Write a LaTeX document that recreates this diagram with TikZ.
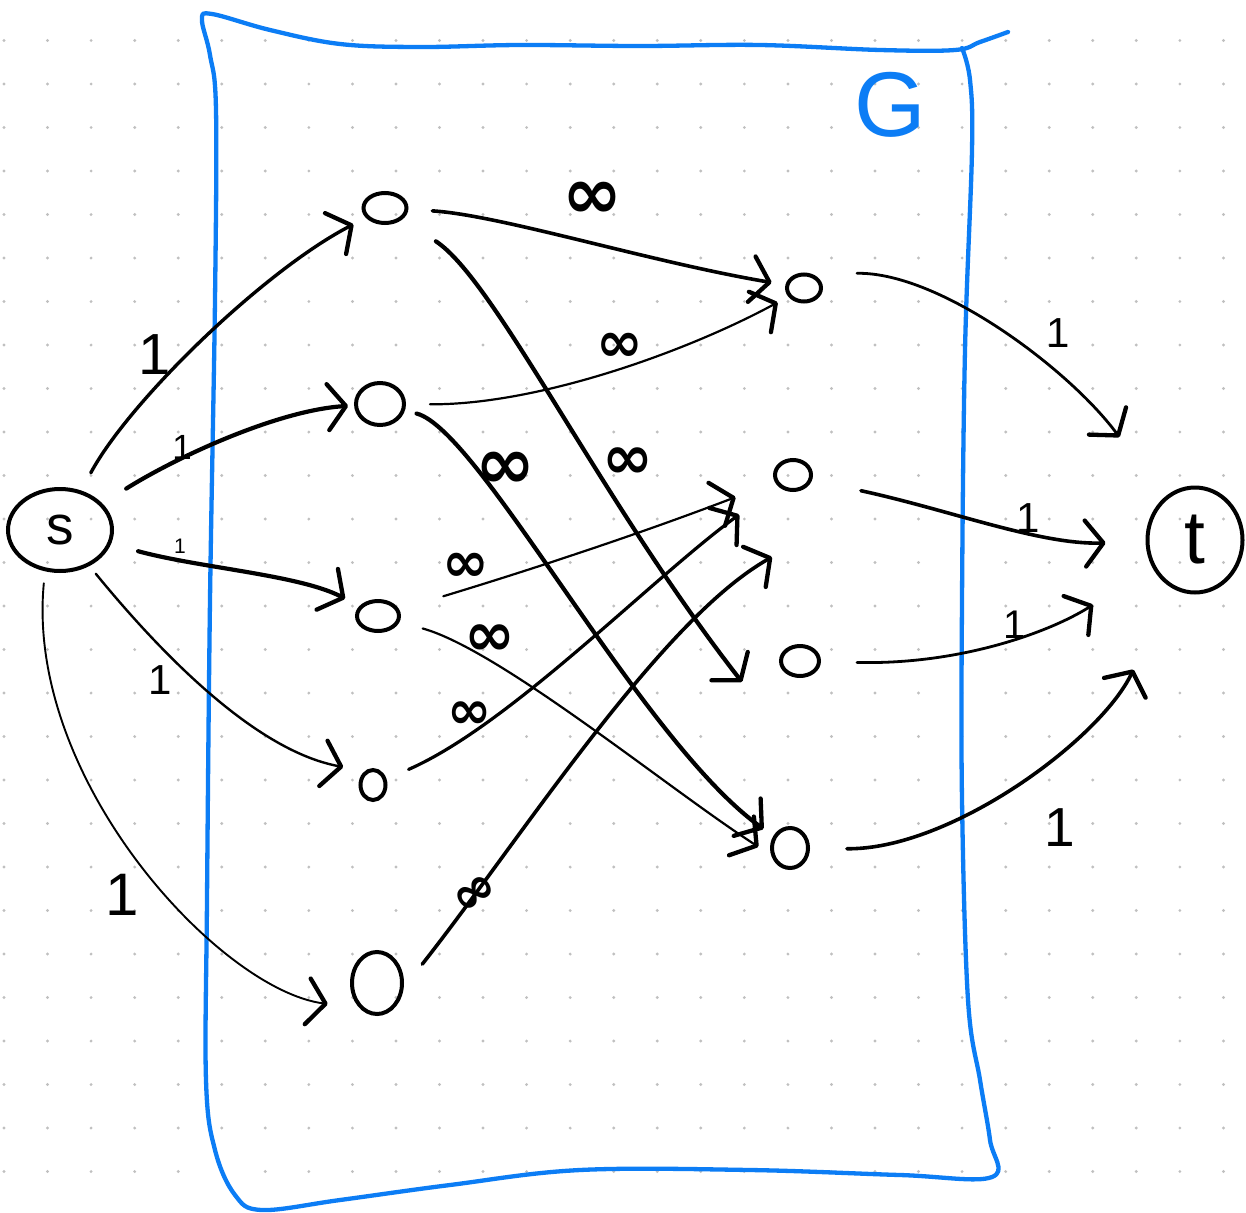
\documentclass[tikz,border=0pt]{standalone}
\usepackage{fontspec}
\setmainfont{Liberation Sans}
\newfontfamily\symf{DejaVu Sans}
\usetikzlibrary{arrows.meta,shapes.geometric}
\definecolor{gblue}{RGB}{12,125,245}
\definecolor{dotc}{RGB}{192,192,192}
\begin{document}
\begin{tikzpicture}[x=1pt,y=-1pt,
  vx/.style={ellipse,draw,line width=4pt,inner sep=0pt},
  edg/.style={line width=#1,line cap=round,-{Straight Barb[length=18pt,width=46pt,line width=4.3pt,round]}},
  edg/.default=2pt,
  lab/.style={inner sep=0pt,font=\fontsize{#1}{#1}\selectfont},
  inf/.style={inner sep=0pt,font=\symf\bfseries\fontsize{#1}{#1}\selectfont}]
\useasboundingbox (0,0) rectangle (1246,1212);
\fill[white] (0,0) rectangle (1246,1212);
\foreach \i in {0,...,28}{\foreach \j in {0,...,26}{\fill[dotc] ({4+43.55*\i},{40.5+43.5*\j}) circle[radius=1.6pt];}}
% frame G
\draw[gblue,line width=4.3pt,line cap=round,line join=round] plot[smooth,tension=0.6] coordinates {
 (1008,32) (980,42) (955,50) (880,50) (760,45) (640,46) (520,45) (420,47) (340,44) (270,30) (212,14) (202,20)
 (210,55) (216,110) (215,300) (210,600) (207,900) (206,1080) (215,1150) (235,1195) (262,1210) (340,1200)
 (450,1185) (580,1170) (750,1170) (900,1175) (992,1177) (990,1140) (980,1080) (968,1000) (962,800)
 (962,600) (965,350) (972,150) (970,80) (962,48)};
\node[text=gblue,inner sep=0pt,font=\fontsize{92}{92}\selectfont] (G) at (890,105) {G};
% nodes
\node[vx,minimum width=104pt,minimum height=82pt,font=\fontsize{55}{55}\selectfont] (s) at (60,530) {s};
\node[vx,minimum width=95pt,minimum height=105pt,font=\fontsize{75}{75}\selectfont] (t) at (1195,540) {t};
\node[vx,minimum width=43pt,minimum height=30pt] (L1) at (385,208) {};
\node[vx,minimum width=48pt,minimum height=42pt] (L2) at (380,404) {};
\node[vx,minimum width=42pt,minimum height=30pt] (L3) at (378,616) {};
\node[vx,minimum width=25pt,minimum height=30pt] (L4) at (373,785) {};
\node[vx,minimum width=50pt,minimum height=62pt] (L5) at (377,983) {};
\node[vx,minimum width=34pt,minimum height=27pt] (R1) at (804,288) {};
\node[vx,minimum width=36pt,minimum height=30pt] (R2) at (793,475) {};
\node[vx,minimum width=38pt,minimum height=30pt] (R3) at (800,661) {};
\node[vx,minimum width=36pt,minimum height=40pt] (R4) at (790,848) {};
\coordinate (a8) at (742,682);
\coordinate (a13) at (772,557);
% s edges
\draw[edg=3.4pt,shorten <=20pt,shorten >=14pt] (s) .. controls (130,400) and (265,270) .. (L1);
\draw[edg=4.2pt,shorten <=28pt,shorten >=6pt] (s) .. controls (180,455) and (280,410) .. (L2);
\draw[edg=4.2pt,shorten <=28pt,shorten >=16pt] (s) .. controls (200,568) and (300,575) .. (L3);
\draw[edg=2.4pt,shorten <=10pt,shorten >=22pt] (s) .. controls (150,640) and (250,750) .. (L4.120);
\draw[edg=1.9pt,shorten <=12pt,shorten >=32pt] (s.250) .. controls (25,780) and (220,990) .. (L5.235);
% middle edges
\draw[edg=3.6pt,shorten <=24pt,shorten >=14pt] (L1) .. controls (500,215) and (650,262) .. (R1);
\draw[edg=2.2pt,shorten <=24pt,shorten >=12pt] (L2) .. controls (540,405) and (690,350) .. (R1);
\draw[edg=4.2pt,shorten <=40pt] (L1) .. controls (495,280) and (600,500) .. (a8);
\draw[edg=4.2pt,shorten <=12pt,shorten >=12pt] (L2) .. controls (480,430) and (640,740) .. (R4);
\draw[edg=2.2pt,shorten <=46pt,shorten >=42pt] (L3) .. controls (540,567) and (650,530) .. (R2);
\draw[edg=2.2pt,shorten <=24pt,shorten >=15pt] (L3) .. controls (500,650) and (670,790) .. (R4.200);
\draw[edg=3.2pt,shorten <=24pt,shorten >=48pt] (L4) .. controls (510,725) and (650,580) .. (R2);
\draw[edg=3.6pt,shorten <=30pt] (L5.-10) .. controls (520,840) and (660,620) .. (a13);
% t edges
\draw[edg=2.8pt,shorten <=45pt,shorten >=75pt] (R1.60) .. controls (940,272) and (1070,370) .. (t);
\draw[edg=3.6pt,shorten <=50pt,shorten >=40pt] (R2.-15) .. controls (950,510) and (1040,545) .. (t);
\draw[edg=2.8pt,shorten <=36pt,shorten >=70pt] (R3) .. controls (960,665) and (1050,632) .. (t);
\draw[edg=3.6pt,shorten <=37pt,shorten >=90pt] (R4) .. controls (950,850) and (1100,740) .. (t);
% labels
\node[lab=58] (c1) at (155,355) {1};
\node[lab=35] (c2) at (182,447) {1};
\node[lab=21] (c3) at (180,546) {1};
\node[lab=42] (c4) at (160,680) {1};
\node[lab=60] (c5) at (122,895) {1};
\node[lab=42] (c6) at (1058,333) {1};
\node[lab=42] (c7) at (1028,518) {1};
\node[lab=40] (c8) at (1015,625) {1};
\node[lab=55] (c9) at (1060,828) {1};
\node[inf=72] (i1) at (592,200) {∞};
\node[inf=56] (i2) at (620,347) {∞};
\node[inf=61] (i3) at (628,463) {∞};
\node[inf=72] (i4) at (505,470) {∞};
\node[inf=56] (i5) at (466,567) {∞};
\node[inf=61] (i6) at (490,640) {∞};
\node[inf=53] (i7) at (470,715) {∞};
\node[inf=53,rotate=35] (i8) at (476,895) {∞};
\end{tikzpicture}
\end{document}
